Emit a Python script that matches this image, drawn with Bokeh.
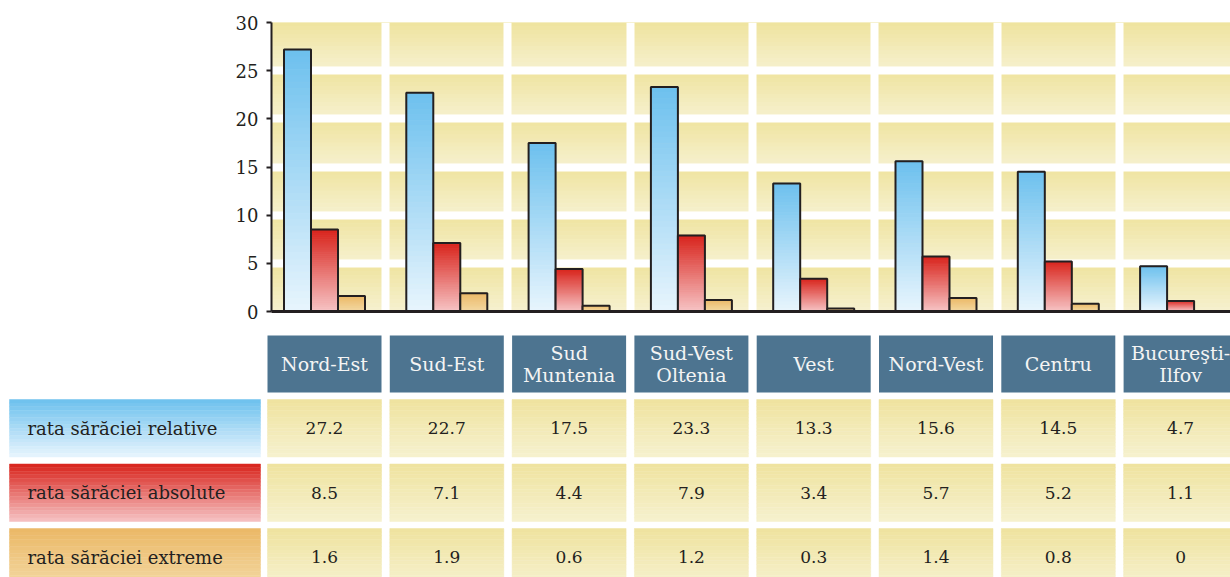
from bokeh.plotting import figure
from bokeh.models import Range1d, FixedTicker
from bokeh.core.properties import value
from bokeh.embed import file_html
from bokeh.resources import INLINE

# ---------------- data ----------------
regions = ["Nord-Est", "Sud-Est", "Sud\nMuntenia", "Sud-Vest\nOltenia", "Vest",
           "Nord-Vest", "Centru", "Bucureşti-\nIlfov"]
relative = [27.2, 22.7, 17.5, 23.3, 13.3, 15.6, 14.5, 4.7]
absolute = [8.5, 7.1, 4.4, 7.9, 3.4, 5.7, 5.2, 1.1]
extreme = [1.6, 1.9, 0.6, 1.2, 0.3, 1.4, 0.8, 0]
series_names = ["rata sărăciei relative", "rata sărăciei absolute", "rata sărăciei extreme"]
y_ticks = [0, 5, 10, 15, 20, 25, 30]

# ---------------- style ----------------
FONT = "DejaVu Serif"
DARK = "#231F20"
SERIES_GRAD = [("#6CC0EE", "#E8F5FD"), ("#D8231B", "#F6C3C4"), ("#EBB866", "#F3D8A2")]
BEIGE = ("#EFE39E", "#F6F1CF")
HEADER = "#4D7490"

W = 1230
PITCH = 122.3
C0 = 324.0
FRAME_L = 271
TOP_H = 330
FRAME_T = 22
FRAME_B = 311
TAB_H = 247


def rgb(h):
    h = h.lstrip("#")
    return [int(h[i:i + 2], 16) for i in (0, 2, 4)]


def lerp(c_top, c_bot, t):
    a, b = rgb(c_top), rgb(c_bot)
    return "#%02x%02x%02x" % tuple(int(round(a[i] + (b[i] - a[i]) * t)) for i in range(3))


# ---------------- chart ----------------
p = figure(width=W, height=TOP_H,
           x_range=Range1d((FRAME_L - C0) / PITCH, (W - C0) / PITCH),
           y_range=Range1d(0, 30),
           output_backend="svg", toolbar_location=None,
           min_border_left=FRAME_L, min_border_right=0,
           min_border_top=FRAME_T, min_border_bottom=TOP_H - FRAME_B)
p.outline_line_color = None
p.grid.visible = False
p.background_fill_color = "white"

# beige background bands with vertical gradient
M = 12
bl, br, bb, bt, bc = [], [], [], [], []
for j in range(len(y_ticks) - 1):
    lo, hi = y_ticks[j], y_ticks[j + 1]
    for k in range(M):
        f = (k + 0.5) / M  # from top
        bt.append(hi - (hi - lo) * k / M)
        bb.append(hi - (hi - lo) * (k + 1) / M)
        bl.append(-2)
        br.append(len(regions) + 2)
        bc.append(lerp(BEIGE[0], BEIGE[1], f))
p.quad(left=bl, right=br, top=bt, bottom=bb, fill_color=bc, line_color=bc, line_width=1)

# white separators
p.hspan(y=y_ticks[1:-1], line_color="white", line_width=8)
p.vspan(x=[i + 0.5 for i in range(len(regions) - 1)], line_color="white", line_width=8)

# gradient bars
bw = 27 / PITCH
N = 40
all_series = [relative, absolute, extreme]
for s, vals in enumerate(all_series):
    off = (s - 1) * bw
    xs, tops, bots, cols = [], [], [], []
    for i, v in enumerate(vals):
        for k in range(N):
            f = (k + 0.5) / N
            tops.append(v - v * k / N)
            bots.append(v - v * (k + 1) / N)
            xs.append(i + off)
            cols.append(lerp(SERIES_GRAD[s][0], SERIES_GRAD[s][1], f))
    p.vbar(x=xs, width=bw, top=tops, bottom=bots, fill_color=cols, line_color=cols, line_width=1)
    p.vbar(x=[i + off for i in range(len(vals))], width=bw, top=vals, bottom=0,
           fill_color=None, line_color=DARK, line_width=2)

# axes
p.yaxis.ticker = FixedTicker(ticks=y_ticks)
p.yaxis.major_label_text_font = FONT
p.yaxis.major_label_text_font_size = "18px"
p.yaxis.major_label_text_color = DARK
p.yaxis.axis_line_color = DARK
p.yaxis.axis_line_width = 2
p.yaxis.major_tick_line_color = DARK
p.yaxis.major_tick_line_width = 2
p.yaxis.major_tick_out = 5
p.yaxis.major_tick_in = 0
p.yaxis.minor_tick_line_color = None
p.yaxis.major_label_standoff = 8

p.xaxis.ticker = FixedTicker(ticks=[])
p.xaxis.axis_line_color = DARK
p.xaxis.axis_line_width = 3
p.xaxis.major_tick_line_color = None
p.xaxis.minor_tick_line_color = None
p.xaxis.major_label_text_font_size = "0px"

# ---------------- table ----------------
t = figure(width=W, height=TAB_H, x_range=Range1d(0, W), y_range=Range1d(TAB_H, 0),
           output_backend="svg", toolbar_location=None, min_border=0)
t.axis.visible = False
t.grid.visible = False
t.outline_line_color = None

HALF = 57
centers = [C0 + PITCH * i for i in range(len(regions))]
HDR_TOP, HDR_BOT = 5, 62
ROW_TOP0, ROW_PITCH, ROW_H = 69, 64.5, 57.5

t.quad(left=[c - HALF for c in centers], right=[c + HALF for c in centers],
       top=[HDR_TOP] * len(centers), bottom=[HDR_BOT] * len(centers),
       fill_color=HEADER, line_color=None)
t.text(x=centers, y=[(HDR_TOP + HDR_BOT) / 2] * len(centers), text=regions,
       text_align="center", text_baseline="middle", text_font=value(FONT),
       text_font_size="19px", text_color="#F4F4F4", text_line_height=1.0)

MT = 16
ql, qr, qt, qb, qc = [], [], [], [], []
tx, ty, tt = [], [], []
lx, ly = [], []
for r, vals in enumerate(all_series):
    top = ROW_TOP0 + r * ROW_PITCH
    for k in range(MT):
        f = (k + 0.5) / MT
        y0 = top + ROW_H * k / MT
        y1 = top + ROW_H * (k + 1) / MT
        ql.append(9); qr.append(260); qt.append(y0); qb.append(y1)
        qc.append(lerp(SERIES_GRAD[r][0], SERIES_GRAD[r][1], f))
        for c in centers:
            ql.append(c - HALF); qr.append(c + HALF); qt.append(y0); qb.append(y1)
            qc.append(lerp(BEIGE[0], BEIGE[1], f))
    for c, v in zip(centers, vals):
        tx.append(c); ty.append(top + ROW_H / 2); tt.append(f"{v:g}")
    lx.append(27); ly.append(top + ROW_H / 2)
t.quad(left=ql, right=qr, top=qt, bottom=qb, fill_color=qc, line_color=qc, line_width=0.5)
t.text(x=tx, y=ty, text=tt, text_align="center", text_baseline="middle",
       text_font=value(FONT), text_font_size="17px", text_color=DARK)
t.text(x=lx, y=ly, text=series_names, text_align="left", text_baseline="middle",
       text_font=value(FONT), text_font_size="18px", text_color=DARK)

open("out.html", "w").write(file_html([p, t], INLINE))
